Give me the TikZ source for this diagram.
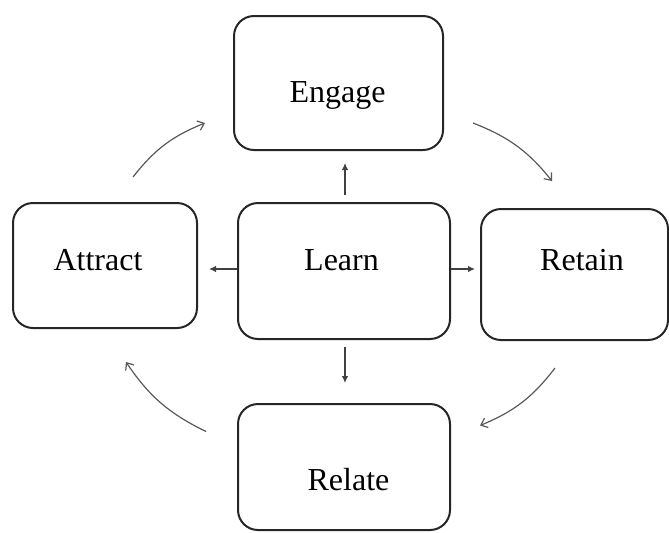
\documentclass[tikz,border=0pt]{standalone}
\usepackage{fontspec}
\setmainfont{Liberation Serif}
\usepackage{tikz}
\usetikzlibrary{arrows.meta,positioning}

\begin{document}
\begin{tikzpicture}[
    x=0.5pt, y=-0.5pt,
    box/.style={draw=black!85, line width=1pt, rounded corners=10pt, inner sep=0pt},
    lbl/.style={font=\fontsize{16}{19}\selectfont, anchor=base, inner sep=0pt},
    arr/.style={-{Latex[length=3.5pt,width=3.2pt]}, draw=black!75, line width=0.55pt},
    cyc/.style={-{Straight Barb[length=3pt,width=5pt]}, draw=black!65, line width=0.6pt, bend left=15}
]
  \useasboundingbox (0,0) rectangle (669,532);

  % boxes
  \node[box, minimum width=104.5pt, minimum height=67pt] (engage) at (338.5,83) {};
  \node[box, minimum width=92pt, minimum height=62.5pt] (attract) at (105,265.5) {};
  \node[box, minimum width=106pt, minimum height=68pt] (learn) at (344,271) {};
  \node[box, minimum width=93.5pt, minimum height=65.5pt] (retain) at (574.5,274.5) {};
  \node[box, minimum width=106pt, minimum height=63pt] (relate) at (344,467) {};

  % box texts
  \node[lbl] (engage-txt) at (337.5,102) {Engage};
  \node[lbl] (attract-txt) at (98,270) {Attract};
  \node[lbl] (learn-txt) at (341.5,270) {Learn};
  \node[lbl] (retain-txt) at (582,270) {Retain};
  \node[lbl] (relate-txt) at (348.5,490) {Relate};

  % Learn out to the others
  \draw[arr, shorten <=3.5pt, shorten >=6pt] ([xshift=0.5pt]learn.north) -- ([xshift=0.5pt]learn.north |- engage.south);
  \draw[arr, shorten >=5.5pt] ([yshift=1pt]learn.west) -- ([yshift=1pt]learn.west -| attract.east);
  \draw[arr, shorten >=2.5pt] ([yshift=1pt]learn.east) -- ([yshift=1pt]learn.east -| retain.west);
  \draw[arr, shorten <=3.5pt, shorten >=10pt] ([xshift=0.5pt]learn.south) -- ([xshift=0.5pt]learn.south |- relate.north);

  % outer cycle
  \draw[cyc] ([xshift=14pt,yshift=12.5pt]attract.north) to ([xshift=-14pt,yshift=-20pt]engage.west);
  \draw[cyc] ([xshift=14.5pt,yshift=-20pt]engage.east) to ([xshift=-11.25pt,yshift=13.5pt]retain.north);
  \draw[cyc] ([xshift=-9.75pt,yshift=-13.5pt]retain.south) to ([xshift=14.5pt,yshift=20.75pt]relate.east);
  \draw[cyc] ([xshift=-15.5pt,yshift=17.75pt]relate.west) to ([xshift=10.5pt,yshift=-16.5pt]attract.south);
\end{tikzpicture}
\end{document}
